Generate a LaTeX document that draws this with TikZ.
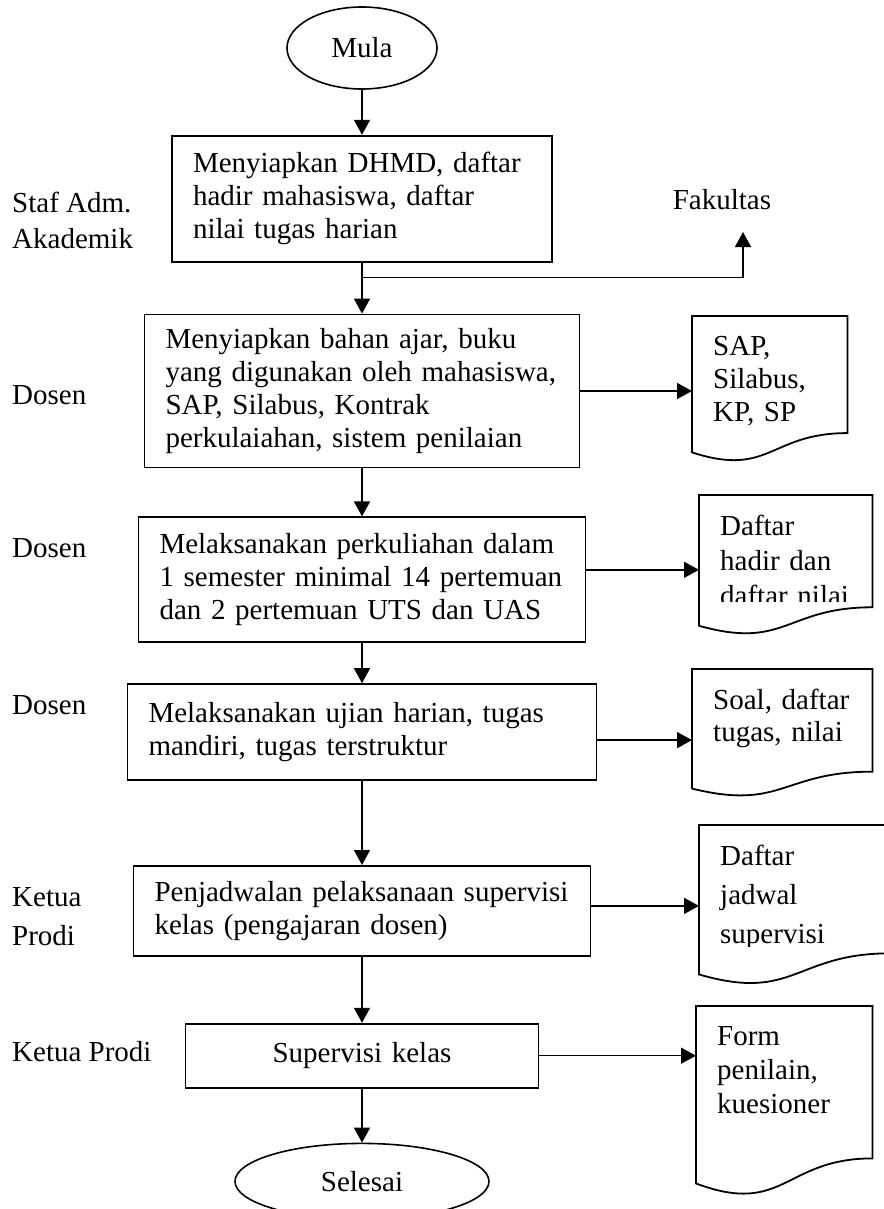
\documentclass[tikz,border=0pt]{standalone}
\usepackage{fontspec}
\setmainfont{Liberation Serif}
\usetikzlibrary{arrows.meta,positioning,shapes.geometric,calc}

\begin{document}
\begin{tikzpicture}[
    x=1pt, y=-1pt,
    every node/.style={font=\fontsize{29}{33}\selectfont},
    terminal/.style={draw, ellipse, line width=1.6pt, inner sep=0pt},
    box/.style={draw, line width=1.8pt, align=left, inner xsep=21pt, inner ysep=0pt},
    doc/.style={anchor=north west, align=left, inner xsep=21pt, inner ysep=20pt},
    role/.style={anchor=west, align=left, inner sep=0pt},
    flow/.style={-{Triangle[length=15pt,width=16pt]}, line width=1.5pt},
    outline/.style={line width=1.8pt}
]
\useasboundingbox (0,0) rectangle (883,1209);

% main column
\node[terminal, minimum width=150pt, minimum height=82pt] (mula) at (362,48) {Mula};
\node[box, below=45pt of mula, text width=338pt, minimum height=126pt] (prepare) {Menyiapkan DHMD, daftar\\hadir mahasiswa, daftar\\nilai tugas harian};
\node[box, below=51pt of prepare, text width=393pt, minimum height=153pt] (material) {Menyiapkan bahan ajar, buku\\yang digunakan oleh mahasiswa,\\SAP, Silabus, Kontrak\\perkulaiahan, sistem penilaian};
\node[box, below=48pt of material, text width=405pt, minimum height=125pt] (lecture) {Melaksanakan perkuliahan dalam\\1 semester minimal 14 pertemuan\\dan 2 pertemuan UTS dan UAS};
\node[box, below=40pt of lecture, text width=427pt, minimum height=96pt] (exam) {Melaksanakan ujian harian, tugas\\mandiri, tugas terstruktur};
\node[box, below=84pt of exam, text width=415pt, minimum height=90pt] (schedule) {Penjadwalan pelaksanaan supervisi\\kelas (pengajaran dosen)};
\node[box, align=center, below=66pt of schedule, text width=311pt, minimum height=64pt] (supervise) {Supervisi kelas};
\node[terminal, below=54pt of supervise, minimum width=254pt, minimum height=76pt] (selesai) {Selesai};

% roles on the left
\node[role, font=\fontsize{29}{36}\selectfont] (staffrole) at (12,220) {Staf Adm.\\Akademik};
\node[role] (lecrole1) at (12,395) {Dosen};
\node[role] (lecrole2) at (12,548) {Dosen};
\node[role] (lecrole3) at (12,705) {Dosen};
\node[role, font=\fontsize{29}{39}\selectfont] (headrole1) at (12,917) {Ketua\\Prodi};
\node[role] (headrole2) at (12,1052) {Ketua Prodi};

\node (fakultas) at (722,200) {Fakultas};

% documents
\begin{scope}
  \clip (692,316) rectangle (847,424);
  \node[doc, text width=113pt] (sapdoc) at (692,316) {SAP,\\Silabus,\\KP, SP};
\end{scope}
\begin{scope}
  \clip (699,495) rectangle (872,601);
  \node[doc, text width=131pt, font=\fontsize{29}{35}\selectfont] (attenddoc) at (699,495) {Daftar\\hadir dan\\daftar nilai};
\end{scope}
\node[doc, text width=138pt, font=\fontsize{29}{32}\selectfont] (taskdoc) at (692,669) {Soal, daftar\\tugas, nilai};
\begin{scope}
  \clip (699,825) rectangle (890,946);
  \node[doc, text width=149pt, font=\fontsize{29}{39}\selectfont] (plandoc) at (699,825) {Daftar\\jadwal\\supervisi};
\end{scope}
\node[doc, text width=134pt, font=\fontsize{29}{34}\selectfont] (formdoc) at (696,1006) {Form\\penilain,\\kuesioner};

\foreach \d/\h in {sapdoc/146, attenddoc/140, taskdoc/128, plandoc/160, formdoc/190}
  \draw[outline] (\d.north west) -- (\d.north east) -- ($(\d.north east)+(0,0.802*\h)$)
    .. controls ($(\d.north)+(0,0.802*\h)$) and ($(\d.north)+(0,1.108*\h)$) .. ($(\d.north west)+(0,0.934*\h)$) -- cycle;

% connectors
\coordinate (split) at ($(prepare.south)+(0,15)$);
\coordinate (fakin) at (743,232);
\draw[flow] (mula) -- (prepare);
\draw[flow] (prepare) -- (material);
\draw[flow] (split) -| (fakin);
\draw[flow] (material) -- (lecture);
\draw[flow] (lecture) -- (exam);
\draw[flow] (exam) -- (schedule);
\draw[flow] (schedule) -- (supervise);
\draw[flow] (supervise) -- (selesai);
\draw[flow] (material.east) -- (material.east -| sapdoc.west);
\draw[flow] ([yshift=10pt]lecture.east) -- ([yshift=10pt]lecture.east -| attenddoc.west);
\draw[flow] ([yshift=-8pt]exam.east) -- ([yshift=-8pt]exam.east -| taskdoc.west);
\draw[flow] ([yshift=5pt]schedule.east) -- ([yshift=5pt]schedule.east -| plandoc.west);
\draw[flow] (supervise.east) -- (supervise.east -| formdoc.west);
\end{tikzpicture}
\end{document}
